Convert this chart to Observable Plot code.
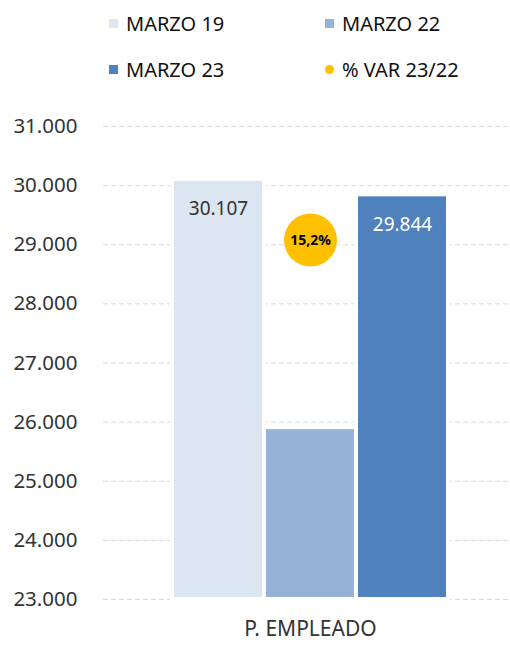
<!DOCTYPE html>
<html>
<head>
<meta charset="utf-8">
<script src="https://cdn.jsdelivr.net/npm/d3@7"></script>
<script src="https://cdn.jsdelivr.net/npm/@observablehq/plot@0.6"></script>
<style>
  html, body { margin: 0; padding: 0; background: #fff; }
  body { width: 510px; height: 645px; overflow: hidden; font-family: "Noto Sans", sans-serif; }
  #legend { position: relative; height: 92px; }
  .item { position: absolute; display: flex; align-items: center; font-size: 20px; color: #111; height: 47px; }
  .sw { width: 9px; height: 9px; margin-right: 8px; }
  .dotsw { width: 9px; height: 9px; border-radius: 50%; margin-right: 8px; }
</style>
</head>
<body>
<div id="legend"></div>
<div id="chart"></div>
<script>
const category = "P. EMPLEADO";
const series = ["MARZO 19", "MARZO 22", "MARZO 23"];
const values = [30107, 25906, 29844];
const colors = ["#dce6f2", "#95b3d7", "#4f81bd"];
const varLabel = "% VAR 23/22";
const varValue = 15.2;
const varColor = "#ffc000";
const yTicks = [23000, 24000, 25000, 26000, 27000, 28000, 29000, 30000, 31000];
const pctDomain = [0, 20]; // secondary axis (hidden)

const loc = d3.formatLocale({decimal: ",", thousands: ".", grouping: [3], currency: ["", ""]});
const fmtInt = loc.format(",d");
const fmtPct = v => loc.format(".1f")(v) + "%";

// legend
const legend = document.getElementById("legend");
const legendItems = [
  {label: series[0], color: colors[0], dot: false},
  {label: series[1], color: colors[1], dot: false},
  {label: series[2], color: colors[2], dot: false},
  {label: varLabel, color: varColor, dot: true}
];
const colX = [109, 325];
legendItems.forEach((it, i) => {
  const div = document.createElement("div");
  div.className = "item";
  div.style.left = colX[i % 2] + "px";
  div.style.top = (Math.floor(i / 2) * 46) + "px";
  const sw = document.createElement("span");
  sw.className = it.dot ? "dotsw" : "sw";
  sw.style.background = it.color;
  div.appendChild(sw);
  div.appendChild(document.createTextNode(it.label));
  legend.appendChild(div);
});

const data = series.map((s, i) => ({series: s, value: values[i], color: colors[i]}));
const yMin = yTicks[0], yMax = yTicks[yTicks.length - 1];
const pctToY = p => yMin + (p - pctDomain[0]) / (pctDomain[1] - pctDomain[0]) * (yMax - yMin);
const varData = [{series: series[1], y: pctToY(varValue), label: fmtPct(varValue)}];

const chart = Plot.plot({
  width: 510,
  height: 553,
  marginLeft: 103,
  marginRight: 0,
  marginTop: 34,
  marginBottom: 46,
  style: {fontFamily: "Noto Sans, sans-serif", background: "#fff"},
  x: {domain: series, range: [172, 448], padding: 0, axis: null},
  y: {domain: [yMin, yMax], axis: null},
  marks: [
    Plot.ruleY(yTicks, {stroke: "#d9d9d9", strokeWidth: 1, strokeDasharray: "5,3"}),
    Plot.barY(data, {x: "series", y1: yMin, y2: "value", fill: "color", stroke: "#ffffff", strokeWidth: 4, insetLeft: 0, insetRight: 0}),
    Plot.axisY({ticks: yTicks, tickFormat: fmtInt, tickSize: 0, tickPadding: 26, fontSize: 20.5, fill: "#333333", anchor: "left"}),
    Plot.text(data.filter(d => d.series !== series[1]), {
      x: "series", y: "value", text: d => fmtInt(d.value), dy: 30,
      fill: d => d.series === series[2] ? "#ffffff" : "#333333", fontSize: 19
    }),
    Plot.dot(varData, {x: "series", y: "y", r: 26.5, fill: varColor, stroke: null}),
    Plot.text(varData, {x: "series", y: "y", text: "label", fontSize: 14, fontWeight: "bold", fill: "#000", letterSpacing: "-0.5px"}),
    Plot.text([category], {x: () => series[1], frameAnchor: "bottom", dy: 36, text: d => d, fontSize: 21, fill: "#333333"})
  ]
});
document.getElementById("chart").appendChild(chart);
</script>
</body>
</html>
